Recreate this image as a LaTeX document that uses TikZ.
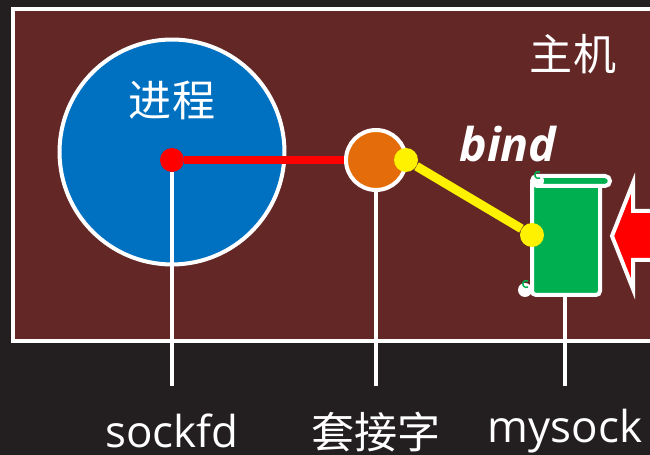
\documentclass[tikz,border=0pt]{standalone}
\usepackage{fontspec}
\setmainfont{Open Sans}
\newfontfamily\cjk{Noto Sans CJK SC}
\definecolor{bgdark}{HTML}{231F20}
\definecolor{hostred}{HTML}{632726}
\definecolor{procblue}{HTML}{0070C0}
\definecolor{sockorange}{HTML}{E46C0A}
\definecolor{filegreen}{HTML}{00B050}
\tikzset{
    outline/.style={draw=white, line width=0.08cm},
    dot/.style={circle, inner sep=0pt, minimum size=0.48cm},
    curl/.style={filegreen, line width=0.03cm},
    cjklabel/.style={text=white, font=\cjk\fontsize{24.5}{24.5}\selectfont, inner sep=0pt},
    latinlabel/.style={text=white, font=\fontsize{25}{25}\selectfont, inner sep=0pt},
}
\begin{document}
\begin{tikzpicture}[x=0.02cm, y=-0.02cm]
                \clip (0,0) rectangle (650,455);
                \fill[bgdark] (0,0) rectangle (650,455);
                \draw[outline, fill=hostred] (13,9) rectangle (680,341);
                \node[circle, outline, fill=procblue, minimum size=4.5cm, inner sep=0pt] (process) at (172,152) {};
                \node[circle, outline, fill=sockorange, minimum size=1.2cm, inner sep=0pt] (socket) at (376,160) {};
                % scroll
                \fill[white] (525,290) circle (7);
                \draw[outline, fill=filegreen, rounded corners=0.08cm] (532,180) -- (532,295) -- (600,295) -- (600,180) -- cycle;
                \draw[outline, fill=filegreen, rounded corners=0.1cm] (532,176) rectangle (610,186);
                \fill[white] (538,181) circle (6);
                \draw[curl] (540,178) arc (60:300:3.5);
                \draw[curl] (528,287) arc (60:300:3.5);
                \node[inner sep=0pt, minimum size=0pt] (file) at (565,296) {};
                % arrow
                \draw[outline, fill=red, line join=miter] (612,236) -- (633,183) -- (633,211) -- (680,211) -- (680,260) -- (633,260) -- (633,289) -- cycle;
                \node[dot, fill=red] (sockdot) at (172,160) {};
                \node[dot, fill=yellow] (bindstart) at (406,160) {};
                \node[dot, fill=yellow] (bindend) at (532,235) {};
                \coordinate (sockend) at (172,386);
                \coordinate (socketend) at (376,386);
                \coordinate (fileend) at (565,386);
                \draw[outline] (sockdot) -- (sockend);
                \draw[outline] (socket) -- (socketend);
                \draw[outline] (file) -- (fileend);
                \draw[red, line width=0.16cm] (sockdot) -- (socket);
                \draw[yellow, line width=0.18cm] (bindstart) -- (bindend);
                \node[cjklabel] (hostlabel) at (573,54) {主机};
                \node[cjklabel] (proclabel) at (172,100) {进程};
                \node[latinlabel, font=\bfseries\itshape\fontsize{26.5}{26.5}\selectfont] (bindlabel) at (508,144) {bind};
                \node[latinlabel] (sockfdlabel) at (172,431) {sockfd};
                \node[cjklabel] (socketlabel) at (376,432) {套接字};
                \node[latinlabel] (mysocklabel) at (565,431) {mysock};
            \end{tikzpicture}
\end{document}
